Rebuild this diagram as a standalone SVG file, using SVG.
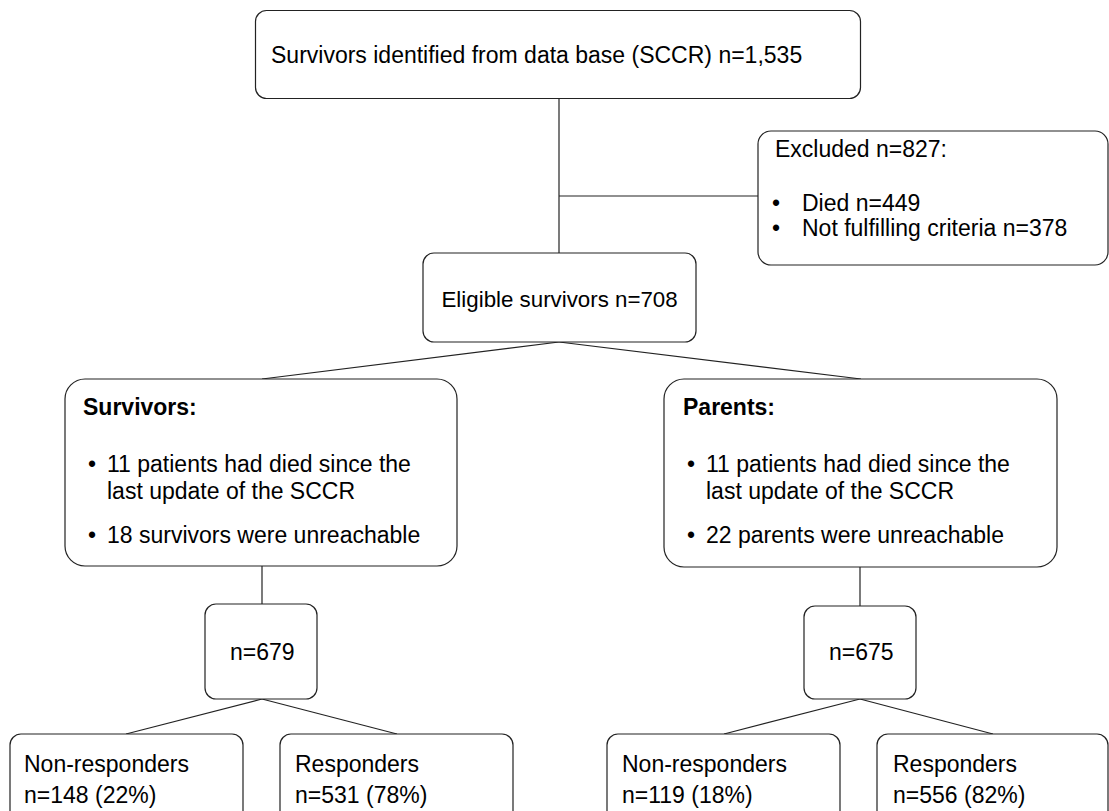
<svg xmlns="http://www.w3.org/2000/svg" width="1109" height="811" viewBox="0 0 1109 811">
<style>
.box{fill:#fff;stroke:#222;stroke-width:1.2}
.t{font-family:"Liberation Sans",Arial,sans-serif;font-size:23px;fill:#000}
.b{font-weight:bold}
.c{fill:none;stroke:#222;stroke-width:1.2}
</style>
<rect width="1109" height="811" fill="#fff"/>
<g id="connectors">
<line class="c" x1="559" y1="98" x2="559" y2="253"/>
<line class="c" x1="559" y1="196" x2="758" y2="196"/>
<line class="c" x1="559" y1="342" x2="262" y2="379"/>
<line class="c" x1="559" y1="342" x2="861" y2="379"/>
<line class="c" x1="262" y1="566" x2="262" y2="604"/>
<line class="c" x1="860" y1="567" x2="860" y2="606"/>
<line class="c" x1="262" y1="699" x2="126" y2="734"/>
<line class="c" x1="262" y1="699" x2="397" y2="734"/>
<line class="c" x1="860" y1="699" x2="724" y2="734"/>
<line class="c" x1="860" y1="699" x2="993" y2="734"/>
</g>
<g id="top">
<rect class="box" x="255.5" y="10.5" width="605" height="88" rx="11"/>
<text class="t" x="271" y="63">Survivors identified from data base (SCCR) n=1,535</text>
</g>
<g id="excluded">
<rect class="box" x="758" y="131" width="350" height="134" rx="13"/>
<text class="t" x="775" y="157">Excluded n=827:</text>
<text class="t" x="772" y="211">•</text>
<text class="t" x="802" y="211">Died n=449</text>
<text class="t" x="772" y="236">•</text>
<text class="t" x="802" y="236">Not fulfilling criteria n=378</text>
</g>
<g id="eligible">
<rect class="box" x="423" y="253" width="273" height="89" rx="11"/>
<text class="t" x="441.5" y="307" style="font-size:22.3px">Eligible survivors n=708</text>
</g>
<g id="survivors">
<rect class="box" x="65" y="379" width="392" height="187" rx="20"/>
<text class="t b" x="83" y="415">Survivors:</text>
<text class="t" x="88" y="472">•</text>
<text class="t" x="107" y="472">11 patients had died since the</text>
<text class="t" x="107" y="499">last update of the SCCR</text>
<text class="t" x="88" y="543">•</text>
<text class="t" x="107" y="543">18 survivors were unreachable</text>
</g>
<g id="parents">
<rect class="box" x="664" y="379" width="393" height="188" rx="20"/>
<text class="t b" x="683" y="415">Parents:</text>
<text class="t" x="687" y="472">•</text>
<text class="t" x="706" y="472">11 patients had died since the</text>
<text class="t" x="706" y="499">last update of the SCCR</text>
<text class="t" x="687" y="543">•</text>
<text class="t" x="706" y="543">22 parents were unreachable</text>
</g>
<g id="n679">
<rect class="box" x="205" y="604" width="112" height="95" rx="11"/>
<text class="t" x="230" y="660">n=679</text>
</g>
<g id="n675">
<rect class="box" x="804" y="606" width="112" height="93" rx="11"/>
<text class="t" x="829" y="660">n=675</text>
</g>
<g id="s-nonresp">
<rect class="box" x="10" y="734" width="233" height="90" rx="11"/>
<text class="t" x="24" y="772">Non-responders</text>
<text class="t" x="24" y="803">n=148 (22%)</text>
</g>
<g id="s-resp">
<rect class="box" x="280" y="734" width="233" height="90" rx="11"/>
<text class="t" x="295" y="772">Responders</text>
<text class="t" x="295" y="803">n=531 (78%)</text>
</g>
<g id="p-nonresp">
<rect class="box" x="607" y="734" width="233" height="90" rx="11"/>
<text class="t" x="622" y="772">Non-responders</text>
<text class="t" x="622" y="803">n=119 (18%)</text>
</g>
<g id="p-resp">
<rect class="box" x="877" y="734" width="231" height="90" rx="11"/>
<text class="t" x="893" y="772">Responders</text>
<text class="t" x="893" y="803">n=556 (82%)</text>
</g>
</svg>
